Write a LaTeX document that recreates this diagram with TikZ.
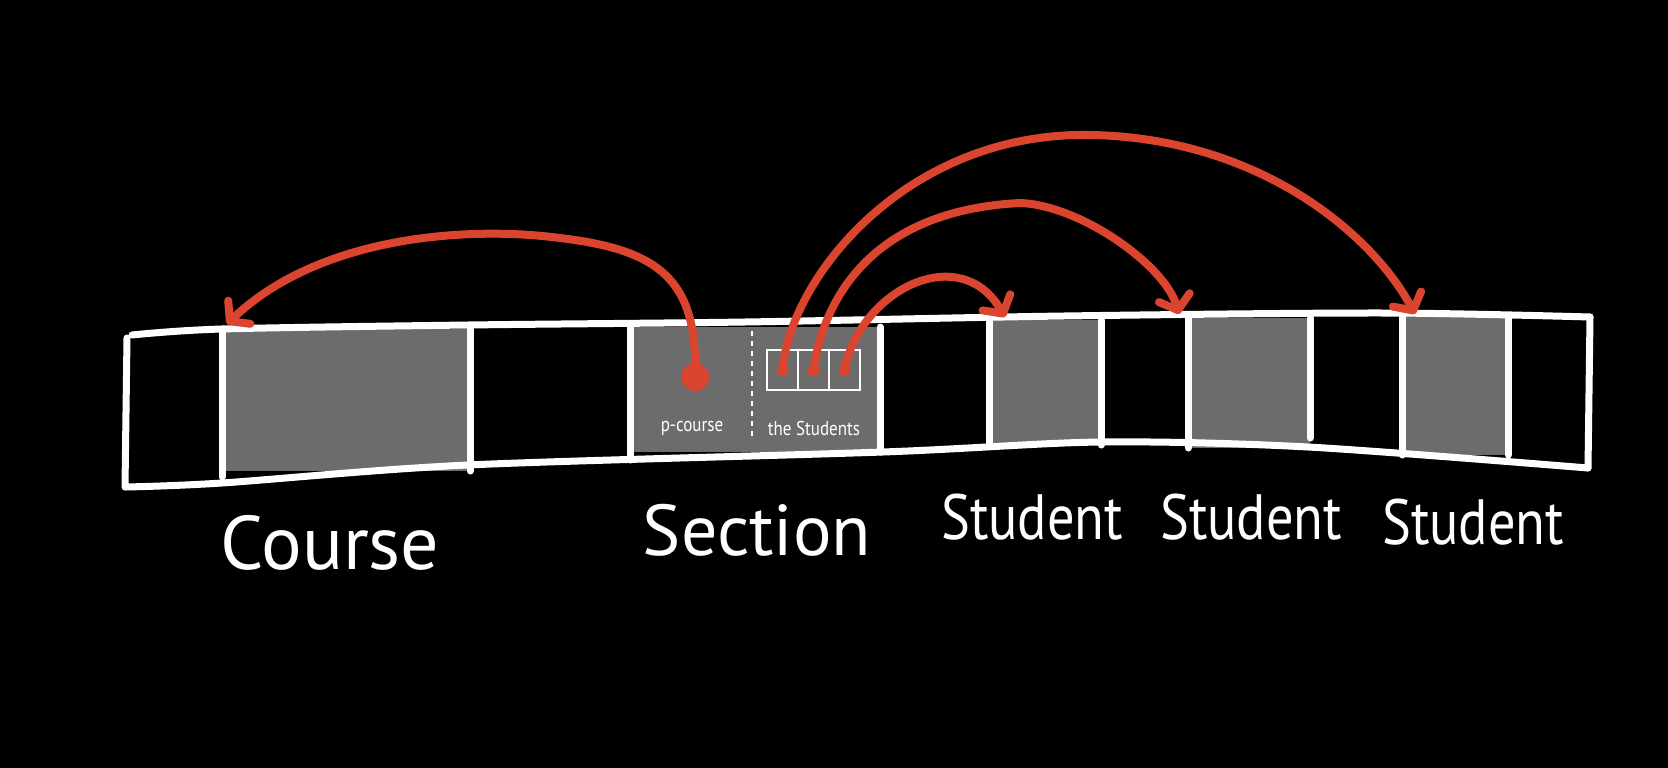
\documentclass[tikz,border=0pt]{standalone}
\usepackage{fontspec}
\newfontfamily\hand[FakeStretch=0.85]{PT Sans}
\newfontfamily\handw{PT Sans}
\usetikzlibrary{positioning,arrows.meta}
\definecolor{ink}{RGB}{219,69,48}
\definecolor{slot}{RGB}{108,108,108}
\tikzstyle{box}=[rectangle,fill=slot,inner sep=0pt,outer sep=0pt]
\tikzstyle{wall}=[draw=white,line width=7pt,line cap=round,line join=round]
\tikzstyle{cell}=[rectangle,draw=white,line width=1.6pt,minimum width=31pt,minimum height=40pt,inner sep=0pt,outer sep=0pt]
\tikzstyle{link}=[draw=ink,line width=8pt,line cap=round,-{Straight Barb[round,length=13pt,width=32pt]}]
\tikzstyle{big}=[text=white,inner sep=0pt,font=\hand\fontsize{64}{64}\selectfont]
\tikzstyle{small}=[text=white,inner sep=0pt,font=\hand\fontsize{20}{20}\selectfont]

\begin{document}
\begin{tikzpicture}[x=1pt,y=-1pt]
	\fill[black] (0,0) rectangle (1668,768);
	\useasboundingbox (0,0) rectangle (1668,768);

	\node[box,minimum width=248pt,minimum height=142pt] (course) at (346,400) {};
	\node[box,minimum width=250pt,minimum height=125pt] (sec) at (755,389.5) {};
	\node[box,minimum width=112pt,minimum height=125pt] (s1) at (1045,382.5) {};
	\node[box,minimum width=122pt,minimum height=130pt] (s2) at (1249,383) {};
	\node[box,minimum width=106pt,minimum height=139pt] (s3) at (1455,385.5) {};

	\draw[wall] plot[smooth,tension=0.5] coordinates {(132,335) (222,329) (468,325) (745,322) (1064,316) (1383,313) (1590,317)};
	\draw[wall] plot[smooth,tension=0.5] coordinates {(126,487) (222,483) (468,465) (883,452) (1101,442) (1308,447) (1588,468)};
	\draw[wall] (127,338) -- (125,487);
	\draw[wall] (1590,317) -- (1588,468);
	\draw[wall] (course.north west) -- ([yshift=-6pt]course.south west) (course.north east) -- (course.south east);
	\draw[wall] (sec.north west) -- ([yshift=-8pt]sec.south west) (sec.north east) -- (sec.south east);
	\draw[wall] (s1.north west) -- (s1.south west) (s1.north east) -- (s1.south east);
	\draw[wall] (s2.north west) -- (s2.south west) (s2.north east) -- ([yshift=10pt]s2.south east);
	\draw[wall] (s3.north west) -- (s3.south west) (s3.north east) -- (s3.south east);

	\draw[white,dash pattern=on 5pt off 5pt,line width=1.5pt] (752,331) -- (752,440);
	\node[cell] (c1) at (782.5,370) {};
	\node[cell,right=0pt of c1] (c2) {};
	\node[cell,right=0pt of c2] (c3) {};
	\node[small] (lp) at (692,428) {p-course};
	\node[small] (lt) at (814,428) {the Students};

	\coordinate (pd) at (695,377);
	\coordinate (t0) at (227,324);
	\coordinate (t1) at (1005,317);
	\coordinate (t2) at (1179,314);
	\coordinate (t3) at (1415,314);

	\draw[link] (pd) .. controls (698,280) and (660,250) .. (560,238) .. controls (470,226) and (320,235) .. (t0);
	\draw[link] (c1.center) .. controls (790,280) and (900,140) .. (1075,135) .. controls (1250,132) and (1370,230) .. (t3);
	\draw[link] (c2.center) .. controls (825,290) and (880,210) .. (1020,203) .. controls (1080,205) and (1165,265) .. (t2);
	\draw[link] (c3.center) .. controls (860,290) and (960,240) .. (t1);
	\fill[ink] (pd) circle (14pt);
	\fill[ink] (c1.center) circle (6pt) (c2.center) circle (6pt) (c3.center) circle (6pt);

	\node[big,font=\handw\fontsize{76}{76}\selectfont] (lc) at (330,543) {Course};
	\node[big,font=\handw\fontsize{72}{72}\selectfont] (ls) at (757,530) {Section};
	\node[big] (l1) at (1032,517) {Student};
	\node[big] (l2) at (1251,517) {Student};
	\node[big] (l3) at (1473,522) {Student};
\end{tikzpicture}
\end{document}
